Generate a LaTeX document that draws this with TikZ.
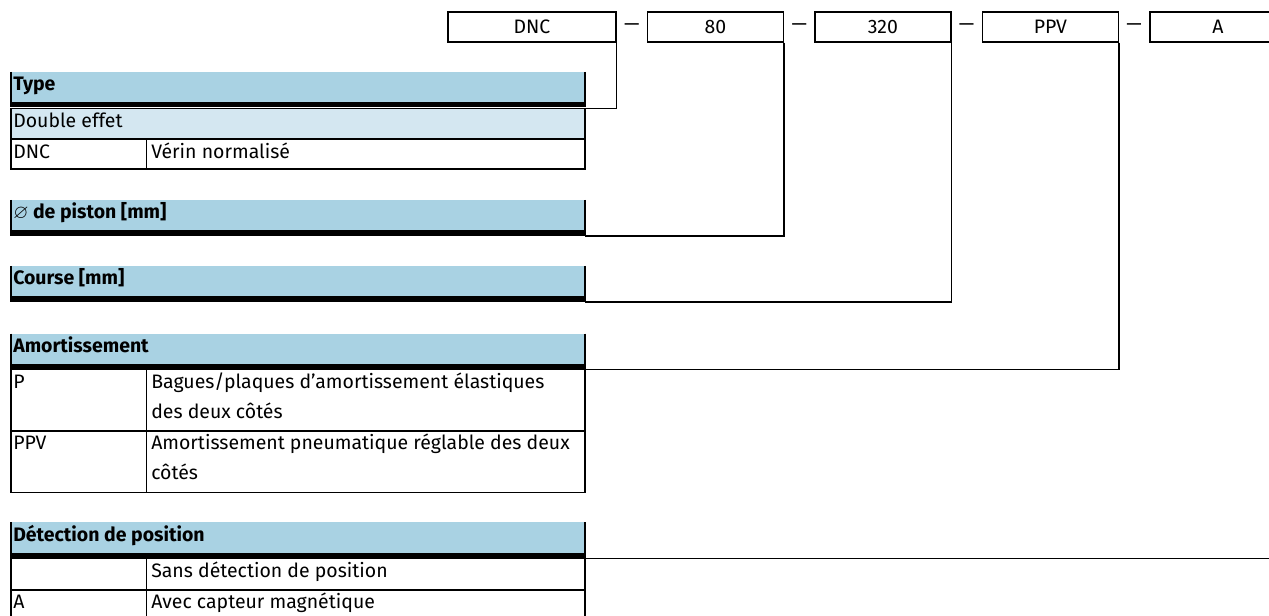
\documentclass[tikz,border=0pt]{standalone}
\usepackage{fontspec}
\setmainfont{Fira Sans}
\usepackage{amssymb}
\usepackage{xcolor}
\usetikzlibrary{positioning,calc}

\definecolor{headblue}{RGB}{169,210,227}
\definecolor{rowblue}{RGB}{212,231,241}

\begin{document}
\begin{tikzpicture}[
    x=0.75pt, y=-0.75pt,
    every node/.style={inner sep=0pt, font=\fontsize{14.6}{17}\selectfont},
    codebox/.style={draw, line width=1.1pt, minimum width=102pt, minimum height=22.5pt},
    link/.style={line width=1.1pt},
    grid/.style={line width=1.1pt},
    head/.style={fill=headblue},
    bar/.style={fill=black},
    headtxt/.style={anchor=base west, font=\fontsize{14.6}{17}\selectfont\bfseries},
    celltxt/.style={anchor=base west}
]
\useasboundingbox (0,0) rectangle (1269,616);

% Order code
\node[codebox, minimum width=126pt] (dnc) at (532,27) {DNC};
\node[codebox, right=22.5pt of dnc] (n80) {80};
\node[codebox, right=22.5pt of n80] (n320) {320};
\node[codebox, right=22.5pt of n320] (ppv) {PPV};
\node[codebox, right=22.5pt of ppv] (a) {A};
\node (s1) at ($(dnc.east)!0.5!(n80.west)$) {—};
\node (s2) at ($(n80.east)!0.5!(n320.west)$) {—};
\node (s3) at ($(n320.east)!0.5!(ppv.west)$) {—};
\node (s4) at ($(ppv.east)!0.5!(a.west)$) {—};

% Type
\fill[head] (11,72) rectangle (585,102);
\fill[bar] (11,102) rectangle (585,107);
\draw[grid] (11,72) -- (11,107) (585,72) -- (585,107);
\fill[rowblue] (11,108.5) rectangle (585,139);
\draw[grid] (11,108.5) rectangle (585,169) (11,139) -- (585,139) (146.5,139) -- (146.5,169);
\node[headtxt] (type) at (13,91) {Type};
\node[celltxt] (double) at (13,128) {Double effet};
\node[celltxt] (dnckey) at (13,158.5) {DNC};
\node[celltxt] (dncval) at (151,158.5) {Vérin normalisé};
\coordinate (typeend) at (585,108.5);

% Piston
\fill[head] (11,200) rectangle (585,230);
\fill[bar] (11,230) rectangle (585,236.5);
\draw[grid] (11,200) -- (11,236.5) (585,200) -- (585,236.5);
\node[headtxt] (piston) at (13,219) {$\varnothing$ de piston [mm]};
\coordinate (pistonend) at (585,236);

% Course
\fill[head] (11,266) rectangle (585,296.5);
\fill[bar] (11,296.5) rectangle (585,302.5);
\draw[grid] (11,266) -- (11,302.5) (585,266) -- (585,302.5);
\node[headtxt] (course) at (13,285) {Course [mm]};
\coordinate (courseend) at (585,302);

% Amortissement
\fill[head] (11,333.5) rectangle (585,364);
\fill[bar] (11,364) rectangle (585,370);
\draw[grid] (11,333.5) -- (11,370) (585,333.5) -- (585,370);
\draw[grid] (11,369.5) rectangle (585,492.5) (11,431) -- (585,431) (146.5,369.5) -- (146.5,492.5);
\node[headtxt] (amort) at (13,352.5) {Amortissement};
\node[celltxt] (pkey) at (13,388.5) {P};
\node[celltxt] (pval) at (151,388.5) {Bagues/plaques d’amortissement élastiques};
\node[celltxt] (pval2) at (151,418.5) {des deux côtés};
\node[celltxt] (ppvkey) at (13,449.5) {PPV};
\node[celltxt] (ppvval) at (151,449.5) {Amortissement pneumatique réglable des deux};
\node[celltxt] (ppvval2) at (151,479.5) {côtés};
\coordinate (amortend) at (585,369.5);

% Detection
\fill[head] (11,522) rectangle (585,552.5);
\fill[bar] (11,552.5) rectangle (585,559);
\draw[grid] (11,522) -- (11,559) (585,522) -- (585,559);
\draw[grid] (11,558.5) rectangle (585,621) (11,590) -- (585,590) (146.5,558.5) -- (146.5,621);
\node[headtxt] (detect) at (13,541) {Détection de position};
\node[celltxt] (sansval) at (151,577.5) {Sans détection de position};
\node[celltxt] (akey) at (13,608.5) {A};
\node[celltxt] (aval) at (151,608.5) {Avec capteur magnétique};
\coordinate (detectend) at (585,558.5);

% Connectors
\draw[link] (dnc.south east) |- (typeend);
\draw[link] (n80.south east) |- (pistonend);
\draw[link] (n320.south east) |- (courseend);
\draw[link] (ppv.south east) |- (amortend);
\draw[link] (a.south east) |- (detectend);

\end{tikzpicture}
\end{document}
